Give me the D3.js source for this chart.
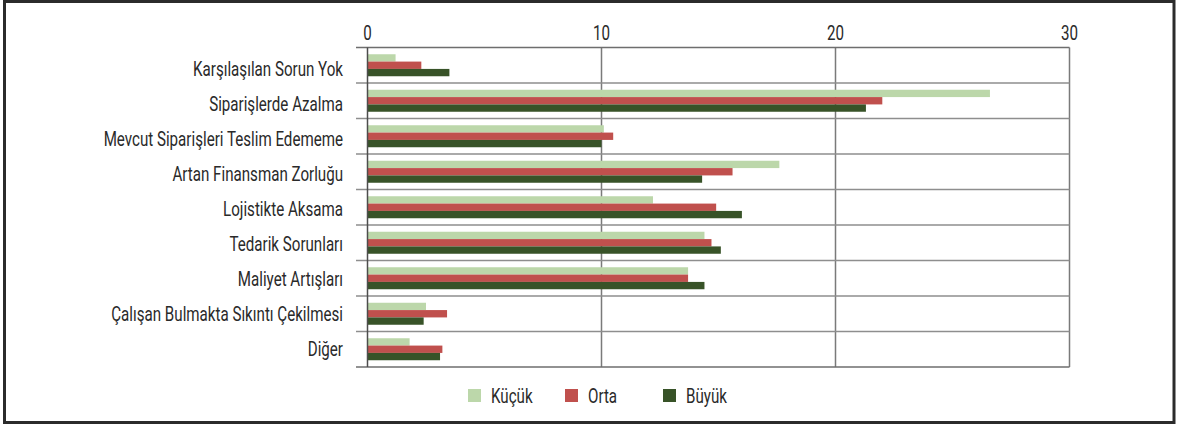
<!DOCTYPE html>
<html>
<head>
<meta charset="utf-8">
<script src="https://cdn.jsdelivr.net/npm/d3@7"></script>
<style>
  html, body { margin: 0; padding: 0; background: #fff; }
  text { font-family: "Roboto", "Liberation Sans Narrow", "DejaVu Sans Condensed", sans-serif; fill: #2a2a2a; }
</style>
</head>
<body>
<svg id="chart" width="1177" height="428"></svg>
<script>
const categories = [
  "Karşılaşılan Sorun Yok",
  "Siparişlerde Azalma",
  "Mevcut Siparişleri Teslim Edememe",
  "Artan Finansman Zorluğu",
  "Lojistikte Aksama",
  "Tedarik Sorunları",
  "Maliyet Artışları",
  "Çalışan Bulmakta Sıkıntı Çekilmesi",
  "Diğer"
];
const seriesNames = ["Küçük", "Orta", "Büyük"];
const kucuk = [1.2, 26.6, 10.1, 17.6, 12.2, 14.4, 13.7, 2.5, 1.8];
const orta  = [2.3, 22.0, 10.5, 15.6, 14.9, 14.7, 13.7, 3.4, 3.2];
const buyuk = [3.5, 21.3, 10.0, 14.3, 16.0, 15.1, 14.4, 2.4, 3.1];
const xTicks = [0, 10, 20, 30];
const colors = ["#bcd7aa", "#c0504d", "#385328"];

const values = [kucuk, orta, buyuk];
const svg = d3.select("#chart");
const FS = 21;

// outer frame
svg.append("rect").attr("x", 4.5).attr("y", 1.5).attr("width", 1169.5).attr("height", 421)
  .attr("fill", "none").attr("stroke", "#2b2b2b").attr("stroke-width", 3);

const x = d3.scaleLinear().domain([0, 30]).range([367.5, 1069.5]);
const y = d3.scaleBand().domain(categories).range([47.5, 367]).padding(0);
const barBlock = 22;
const ySub = d3.scaleBand().domain(seriesNames)
  .range([(y.bandwidth() - barBlock) / 2, (y.bandwidth() + barBlock) / 2]).padding(0);
const yLabel = d3.scalePoint().domain(categories).range([69, 348.5]);

// measure a common horizontal compression for condensed look
const probe = svg.append("text").attr("font-size", FS).text(categories[0]);
const probeW = probe.node().getComputedTextLength();
probe.remove();
const sx = Math.min(1, 150 / probeW);

// vertical gridlines
svg.append("g").selectAll("line").data(xTicks.filter(d => d > 0)).join("line")
  .attr("x1", d => x(d)).attr("x2", d => x(d))
  .attr("y1", y.range()[0]).attr("y2", y.range()[1])
  .attr("stroke", "#7a7a7a").attr("stroke-width", 1.5);

// horizontal separators (band edges) extended as ticks to the left
const edges = categories.map(c => y(c)).concat([y.range()[1]]);
svg.append("g").selectAll("line").data(edges).join("line")
  .attr("x1", 356).attr("x2", x(30))
  .attr("y1", d => d).attr("y2", d => d)
  .attr("stroke", (d, i) => i === 0 || i === edges.length - 1 ? "#6e6e6e" : "#8e8e8e")
  .attr("stroke-width", 1.5);

// bars
const rows = svg.append("g").selectAll("g").data(categories).join("g")
  .attr("transform", c => `translate(0,${y(c)})`);
rows.selectAll("rect").data((c, i) => seriesNames.map((s, k) => ({ s, k, v: values[k][i] })))
  .join("rect")
  .attr("x", x(0))
  .attr("y", d => ySub(d.s))
  .attr("width", d => x(d.v) - x(0))
  .attr("height", ySub.bandwidth())
  .attr("fill", d => colors[d.k]);

// zero axis line
svg.append("line").attr("x1", x(0)).attr("x2", x(0))
  .attr("y1", y.range()[0]).attr("y2", y.range()[1])
  .attr("stroke", "#4d4d4d").attr("stroke-width", 1.5);

// top tick labels
svg.append("g").selectAll("g").data(xTicks).join("g")
  .attr("transform", d => `translate(${x(d)},40) scale(${sx},1)`)
  .append("text").attr("text-anchor", "middle").attr("font-size", FS).text(d => d);

// category labels
svg.append("g").selectAll("g").data(categories).join("g")
  .attr("transform", c => `translate(343,${yLabel(c) + 7.3}) scale(${sx},1)`)
  .append("text").attr("text-anchor", "end").attr("font-size", FS).text(c => c);

// legend
const legendX = [468, 565, 663];
const lg = svg.append("g").selectAll("g").data(seriesNames).join("g")
  .attr("transform", (d, i) => `translate(${legendX[i]},389)`);
lg.append("rect").attr("width", 13).attr("height", 13).attr("fill", (d, i) => colors[i]);
lg.append("g").attr("transform", `translate(23,14) scale(${sx},1)`)
  .append("text").attr("font-size", FS).text(d => d);
</script>
</body>
</html>
